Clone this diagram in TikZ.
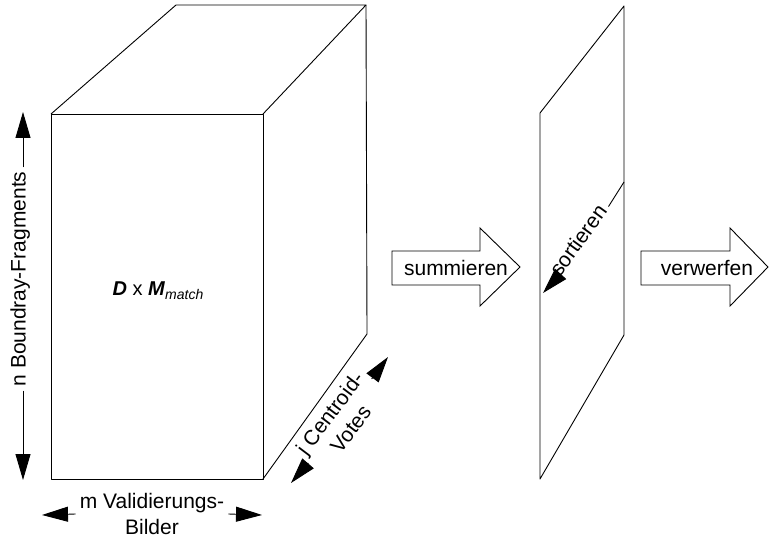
\documentclass[tikz,border=0pt]{standalone}
\usepackage{fontspec}
\setmainfont{Liberation Sans}
\usetikzlibrary{arrows.meta}

\begin{document}
\begin{tikzpicture}[x=1pt,y=-1pt,
  edge/.style={line width=0.9pt, line join=round},
  dimarrow/.style={line width=0.9pt, -{Triangle[length=26pt,width=15pt]}},
  lbl/.style={font=\fontsize{21}{26}\selectfont, inner sep=4pt, align=center},
  blockarrow/.style={draw, line width=0.9pt, line join=miter, fill=white}]
  \useasboundingbox (0,0) rectangle (778,540);

  % cuboid D x M
  \coordinate (A) at (51,114);
  \coordinate (B) at (263,114);
  \coordinate (C) at (263,479);
  \coordinate (D) at (51,479);
  \coordinate (E) at (176,5);
  \coordinate (F) at (366,5);
  \coordinate (G) at (367,334);
  \draw[edge] (A) -- (B) -- (C) -- (D) -- cycle;
  \draw[edge] (A) -- (E) -- (F) -- (B);
  \draw[edge] (F) -- (G) -- (C);
  \node[font=\fontsize{20}{24}\selectfont] (dm) at (158,291)
    {\textbf{\textit{D}} x \textbf{\textit{M}}\raisebox{-0.35ex}{\fontsize{14}{14}\selectfont\itshape match}};

  % sorted plane
  \coordinate (P1) at (540,113);
  \coordinate (P2) at (624,6);
  \coordinate (P3) at (624,335);
  \coordinate (P4) at (540,479);
  \draw[edge] (P1) -- (P2) -- (P3) -- (P4) -- cycle;

  % dimension: n
  \coordinate (nTop) at (23,112);
  \coordinate (nBot) at (23,480);
  \node[lbl, rotate=90, text height=0.72em, text depth=0.21em] (nlab) at (23,279) {n Boundray-Fragments};
  \draw[dimarrow] (nlab.east) -- (nTop);
  \draw[dimarrow] (nlab.west) -- (nBot);

  % dimension: m
  \coordinate (mL) at (42,515);
  \coordinate (mR) at (262,515);
  \node[lbl] (mlab) at (152,514) {m Validierungs-\\Bilder};
  \draw[dimarrow] (mlab.west) -- (mL);
  \draw[dimarrow] (mlab.east) -- (mR);

  % dimension: j
  \coordinate (jL) at (291,483);
  \coordinate (jU) at (388,357);
  \node[lbl, rotate=53] (jlab) at (340,421) {j Centroid-\\Votes};
  \draw[dimarrow] (jlab.west) -- (jL);
  \draw[dimarrow] (jlab.east) -- (jU);

  % sorting direction on the plane
  \coordinate (sS) at (624,182);
  \coordinate (sT) at (543,293);
  \node[lbl, rotate=54, text height=0.72em, text depth=0.21em] (slab) at (582,243) {sortieren};
  \draw[edge] (sS) -- (slab.east);
  \draw[dimarrow] (slab.west) -- (sT);

  % process arrows
  \draw[blockarrow] (392,251) -- (480,251) -- (480,228) -- (520,267)
    -- (480,306) -- (480,285) -- (392,285) -- cycle;
  \node[lbl] (sum) at (456,268) {summieren};
  \draw[blockarrow] (641,251) -- (730,251) -- (730,228) -- (768,267)
    -- (730,306) -- (730,285) -- (641,285) -- cycle;
  \node[lbl] (verw) at (707,268) {verwerfen};
\end{tikzpicture}
\end{document}
